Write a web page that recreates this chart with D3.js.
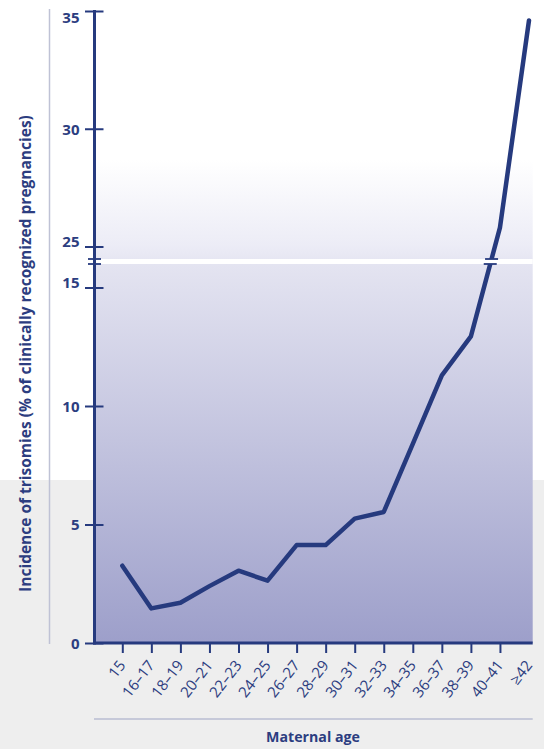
<!DOCTYPE html>
<html>
<head>
<meta charset="utf-8">
<script src="https://cdn.jsdelivr.net/npm/d3@7"></script>
<style>
  html, body { margin: 0; padding: 0; background: #fff; }
  svg { display: block; font-family: "Open Sans", "Noto Sans", sans-serif; }
</style>
</head>
<body>
<svg id="chart" width="544" height="749"></svg>
<script>
// maternal age groups and incidence of trisomies (%)
const ages = ['15', '16–17', '18–19', '20–21', '22–23', '24–25', '26–27', '28–29',
  '30–31', '32–33', '34–35', '36–37', '38–39', '40–41', '≥42'];
const incidence = [3.26, 1.46, 1.7, 2.4, 3.05, 2.63, 4.13, 4.13,
  5.25, 5.53, 8.4, 11.29, 12.94, 25.8, 34.6];

const lowTicks = [0, 5, 10, 15];
const highTicks = [25, 30, 35];

const navy = '#263a7e';
const textColor = '#2c3d80';

const svg = d3.select('#chart');
const W = 544, H = 749;

const plotLeft = 94.5, plotRight = 532.7, plotTop = 11, plotBottom = 643;
const breakTop = 259, breakBottom = 264;

const x = d3.scalePoint()
  .domain(ages)
  .range([122.3, 529]);

// broken value axis: two linear pieces
const yLow = d3.scaleLinear().domain([0, 15]).range([plotBottom, 287.5]);
const yHigh = d3.scaleLinear().domain([25, 35]).range([246.5, plotTop]);
const y = v => v <= 20 ? yLow(v) : yHigh(v);

// page background: white top, light grey lower band
svg.append('rect').attr('width', W).attr('height', H).attr('fill', '#ffffff');
svg.append('rect')
  .attr('x', 0).attr('y', 480)
  .attr('width', W).attr('height', H - 480)
  .attr('fill', '#eeeeee');

// plot gradient
const defs = svg.append('defs');
const grad = defs.append('linearGradient')
  .attr('id', 'plotGrad')
  .attr('gradientUnits', 'userSpaceOnUse')
  .attr('x1', 0).attr('y1', plotTop).attr('x2', 0).attr('y2', plotBottom);
[[plotTop, '#ffffff'], [160, '#ffffff'], [246, '#ececf6'], [264, '#e4e4f1'], [plotBottom, '#9d9fca']]
  .forEach(([yy, c]) => grad.append('stop')
    .attr('offset', (yy - plotTop) / (plotBottom - plotTop))
    .attr('stop-color', c));

svg.append('rect')
  .attr('x', plotLeft).attr('y', plotTop)
  .attr('width', plotRight - plotLeft).attr('height', plotBottom - plotTop)
  .attr('fill', 'url(#plotGrad)');

// thin guide lines
svg.append('line')
  .attr('x1', 49.5).attr('x2', 49.5)
  .attr('y1', 9).attr('y2', 644)
  .attr('stroke', '#bfc2d5').attr('stroke-width', 1.5);

svg.append('line')
  .attr('x1', 94).attr('x2', plotRight)
  .attr('y1', 719).attr('y2', 719)
  .attr('stroke', '#c6c9d9').attr('stroke-width', 2);

// data line
const line = d3.line()
  .x((d, i) => x(ages[i]))
  .y(d => y(d));

svg.append('path')
  .datum(incidence)
  .attr('fill', 'none')
  .attr('stroke', navy)
  .attr('stroke-width', 4.5)
  .attr('stroke-linejoin', 'round')
  .attr('stroke-linecap', 'round')
  .attr('d', line);

// break band across the plot
svg.append('rect')
  .attr('x', plotLeft + 1.5).attr('y', breakTop)
  .attr('width', plotRight - plotLeft - 1.5).attr('height', breakBottom - breakTop)
  .attr('fill', '#ffffff');

// break marks on the data line
const bi = incidence.findIndex(v => v > 20);
const xa = x(ages[bi - 1]), ya = y(incidence[bi - 1]);
const xb = x(ages[bi]), yb = y(incidence[bi]);
[breakTop, breakBottom].forEach(yy => {
  const xx = xa + (xb - xa) * (yy - ya) / (yb - ya);
  svg.append('line')
    .attr('x1', xx - 6.5).attr('x2', xx + 6.5)
    .attr('y1', yy).attr('y2', yy)
    .attr('stroke', navy).attr('stroke-width', 1.8);
});

// y axis
function styleYAxis(g, dyFor) {
  g.attr('font-family', null);
  g.select('.domain').remove();
  g.selectAll('.tick line')
    .attr('x1', 9)
    .attr('x2', -9.5)
    .attr('stroke', navy)
    .attr('stroke-width', 2);
  g.selectAll('.tick text')
    .attr('x', -15)
    .attr('dy', dyFor)
    .attr('fill', textColor)
    .style('font-size', '15px')
    .style('font-weight', 'bold');
}

svg.append('g')
  .attr('transform', `translate(${plotLeft},0)`)
  .call(d3.axisLeft(yLow).tickValues(lowTicks).tickSize(9).tickFormat(d3.format('d')))
  .call(g => styleYAxis(g, d => d === 15 ? '-0.02em' : '0.36em'));

svg.append('g')
  .attr('transform', `translate(${plotLeft},0)`)
  .call(d3.axisLeft(yHigh).tickValues(highTicks).tickSize(9).tickFormat(d3.format('d')))
  .call(g => styleYAxis(g, d => d === 35 ? '0.74em' : d === 25 ? '-0.02em' : '0.36em'));

// y axis line
svg.append('line')
  .attr('x1', plotLeft).attr('x2', plotLeft)
  .attr('y1', plotTop - 1).attr('y2', plotBottom + 1.5)
  .attr('stroke', navy).attr('stroke-width', 3);

// break marks on the y axis
[breakTop, breakBottom].forEach(yy => {
  svg.append('line')
    .attr('x1', plotLeft - 6.5).attr('x2', plotLeft + 6.5)
    .attr('y1', yy).attr('y2', yy)
    .attr('stroke', navy).attr('stroke-width', 1.8);
});

// x axis
const xAxis = svg.append('g')
  .attr('transform', `translate(0,${plotBottom})`)
  .call(d3.axisBottom(x).tickSize(10).tickSizeOuter(0));

xAxis.attr('font-family', null);
xAxis.select('.domain').remove();
xAxis.selectAll('.tick line')
  .attr('stroke', navy)
  .attr('stroke-width', 2)
  .attr('display', d => d === ages[ages.length - 1] ? 'none' : null);
xAxis.selectAll('.tick text')
  .attr('fill', textColor)
  .attr('text-anchor', 'end')
  .attr('y', 0)
  .attr('dy', 0)
  .attr('transform', 'translate(3.5,22.5) rotate(-52)')
  .style('font-size', '15px');

svg.append('line')
  .attr('x1', plotLeft - 1.5).attr('x2', plotRight)
  .attr('y1', plotBottom).attr('y2', plotBottom)
  .attr('stroke', navy).attr('stroke-width', 3);

// titles
svg.append('text')
  .attr('transform', 'translate(31,353.5) rotate(-90)')
  .attr('text-anchor', 'middle')
  .attr('fill', textColor)
  .style('font-size', '15.5px')
  .style('font-weight', 'bold')
  .text('Incidence of trisomies (% of clinically recognized pregnancies)');

svg.append('text')
  .attr('x', 313).attr('y', 741.5)
  .attr('text-anchor', 'middle')
  .attr('fill', textColor)
  .style('font-size', '14.2px')
  .style('font-weight', 'bold')
  .text('Maternal age');
</script>
</body>
</html>
